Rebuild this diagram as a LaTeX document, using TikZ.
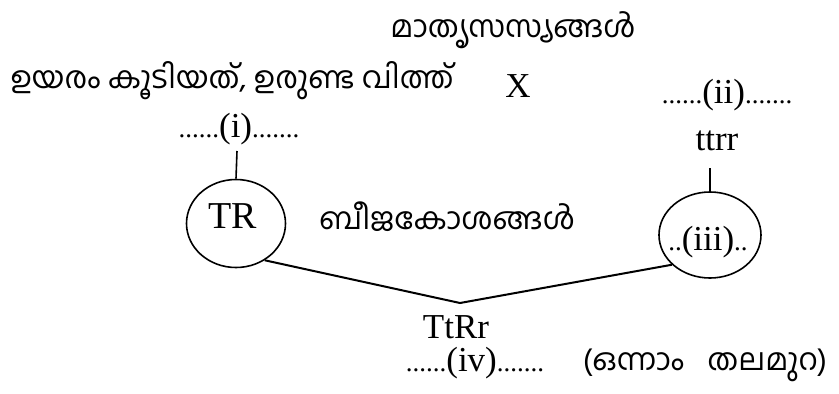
\documentclass[tikz,border=0pt]{standalone}
\usepackage{fontspec}
\setmainfont{Liberation Serif}
\newfontfamily\mal[Script=Malayalam]{Hind Kochi}
\usetikzlibrary{shapes.geometric}
\newcommand{\dts}[1]{{\fontsize{27}{30}\selectfont #1}}
\begin{document}
\begin{tikzpicture}[x=1pt,y=-1pt,
  lat/.style={font=\fontsize{35}{40}\selectfont, inner sep=0pt},
  ml/.style={font=\mal\fontsize{30.5}{36}\selectfont, inner sep=0pt},
  cell/.style={draw, ellipse, line width=1.6pt, inner sep=0pt},
  link/.style={line width=2pt}]
\useasboundingbox (0,0) rectangle (839,394);
\node[ml] (mata) at (513,30) {മാതൃസസ്യങ്ങൾ};
\node[ml] (tall) at (232,81) {ഉയരം കൂടിയത്, ഉരുണ്ട വിത്ത്};
\node[lat] (x) at (518,86) {X};
\node[lat] (ii) at (727,95) {\dts{......}(ii)\dts{.......}};
\node[lat] (i) at (239,129) {\dts{......}(i)\dts{.......}};
\node[lat] (ttrr) at (717,141) {ttrr};
\node[cell, minimum width=99pt, minimum height=88pt] (trc) at (236,223.5) {};
\node[lat, font=\fontsize{38}{42}\selectfont] (tr) at (233,216) {TR};
\node[ml] (beeja) at (447,217) {ബീജകോശങ്ങൾ};
\node[cell, minimum width=102pt, minimum height=86pt] (iiic) at (710,235) {};
\node[lat] (iii) at (708,242) {\dts{..}(iii)\dts{..}};
\coordinate (ia) at (237,151);
\coordinate (iib) at (710,168);
\coordinate (m) at (460,303);
\draw[line width=1.6pt] (ia) -- (trc.north);
\draw[line width=1.6pt] (iib) -- (iiic.north);
\draw[link] (trc.-52) -- (m) -- (iiic.218);
\node[lat] (ttrr2) at (456,327) {TtRr};
\node[lat] (iv) at (475,363) {\dts{......}(iv)\dts{.......}};
\node[ml] (gen) at (705,365) {(ഒന്നാം\hspace{16pt} തലമുറ)};
\end{tikzpicture}
\end{document}
